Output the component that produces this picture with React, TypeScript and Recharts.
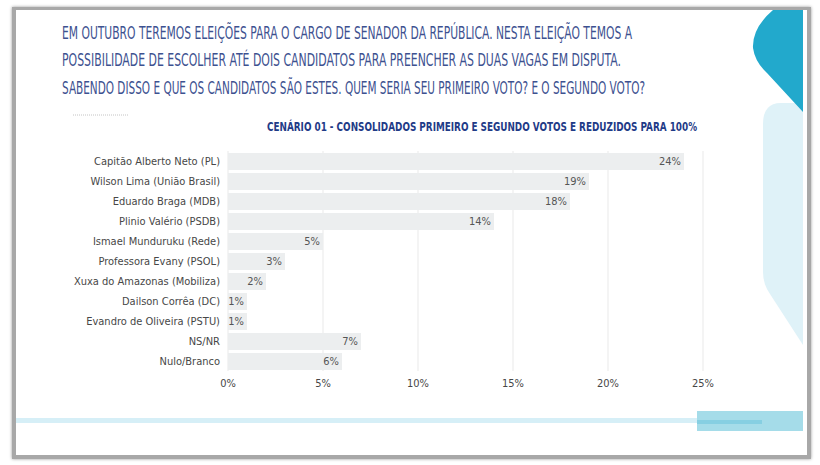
import { BarChart, Bar, XAxis, YAxis, CartesianGrid, LabelList } from "recharts";

const categories = [
  "Capitão Alberto Neto (PL)",
  "Wilson Lima (União Brasil)",
  "Eduardo Braga (MDB)",
  "Plinio Valério (PSDB)",
  "Ismael Munduruku (Rede)",
  "Professora Evany (PSOL)",
  "Xuxa do Amazonas (Mobiliza)",
  "Dailson Corrêa (DC)",
  "Evandro de Oliveira (PSTU)",
  "NS/NR",
  "Nulo/Branco",
];

const values = [24, 19, 18, 14, 5, 3, 2, 1, 1, 7, 6];

const xTicks = [0, 5, 10, 15, 20, 25];

const introLines = [
  "EM OUTUBRO TEREMOS ELEIÇÕES PARA O CARGO DE SENADOR DA REPÚBLICA. NESTA ELEIÇÃO TEMOS A",
  "POSSIBILIDADE DE ESCOLHER ATÉ DOIS CANDIDATOS PARA PREENCHER AS DUAS VAGAS EM DISPUTA.",
  "SABENDO DISSO E QUE OS CANDIDATOS SÃO ESTES. QUEM SERIA SEU PRIMEIRO VOTO? E O SEGUNDO VOTO?",
];

const subtitle = "CENÁRIO 01 - CONSOLIDADOS PRIMEIRO E SEGUNDO VOTOS E REDUZIDOS PARA 100%";

const data = categories.map((name, i) => ({ name, value: values[i] }));

const font = "'DejaVu Sans Condensed', 'Liberation Sans Narrow', sans-serif";
const textColor = "#474747";

// widths and baselines of the three intro lines
const lineLayout = [
  { y: 39, w: 570 },
  { y: 66, w: 559 },
  { y: 94, w: 583 },
];

export default function App() {
  return (
    <div
      style={{
        position: "absolute",
        left: 0,
        top: 0,
        width: 820,
        height: 465,
        background: "#fff",
        overflow: "hidden",
      }}
    >
      {/* slide frame */}
      <div
        style={{
          position: "absolute",
          left: 12,
          top: 7,
          width: 791,
          height: 445,
          borderLeft: "4px solid #a8a8a8",
          borderTop: "3px solid #a8a8a8",
          borderRight: "4px solid #a8a8a8",
          borderBottom: "4px solid #a8a8a8",
          boxShadow: "0 0 3px #999",
          background: "#fff",
        }}
      />
      <svg
        width={820}
        height={465}
        style={{ position: "absolute", left: 0, top: 0 }}
      >
        <path
          d="M 803 103 L 781 103 Q 763 103 763 124 L 763 272 Q 763 284 770 294 L 803 345 Z"
          fill="#dff2f8"
        />
        <path
          d="M 773 10 Q 752 28 753 48 Q 755 62 767 73 L 803 112 L 803 10 Z"
          fill="#22a9cc"
        />
        <rect x={16} y={418} width={681} height={5} fill="#d6eff7" />
        <rect x={697} y={411} width={106} height={20} fill="#a5dce9" />
        <rect x={697} y={420} width={65} height={4} fill="#86cfe2" />
        <line
          x1={73}
          y1={115}
          x2={128}
          y2={115}
          stroke="#c4c4c4"
          strokeWidth={1}
          strokeDasharray="1 1"
        />
        {introLines.map((t, i) => (
          <text
            key={i}
            transform={`translate(62, ${lineLayout[i].y}) scale(1, 1.45)`}
            x={0}
            y={0}
            textLength={lineLayout[i].w}
            lengthAdjust="spacingAndGlyphs"
            fontFamily={font}
            fontSize={12}
            fill="#3d5190"
          >
            {t}
          </text>
        ))}
        <text
          transform="translate(267, 131) scale(1, 1.2)"
          x={0}
          y={0}
          textLength={430}
          lengthAdjust="spacingAndGlyphs"
          fontFamily={font}
          fontSize={10.5}
          fontWeight="bold"
          fill="#1f3b87"
        >
          {subtitle}
        </text>
      </svg>
      <div style={{ position: "absolute", left: 0, top: 140 }}>
        <BarChart
          width={820}
          height={261}
          data={data}
          layout="vertical"
          margin={{ top: 11, right: 117, left: 0, bottom: 0 }}
          style={{ fontFamily: font }}
        >
          <CartesianGrid horizontal={false} stroke="#e9e9e9" />
          <XAxis
            type="number"
            domain={[0, 25]}
            ticks={xTicks}
            tickFormatter={(v) => `${v}%`}
            axisLine={false}
            tickLine={false}
            tick={{ fill: textColor, fontSize: 11 }}
            height={30}
          />
          <YAxis
            type="category"
            dataKey="name"
            width={228}
            axisLine={false}
            tickLine={false}
            interval={0}
            tick={{ fill: textColor, fontSize: 11 }}
          />
          <Bar
            dataKey="value"
            fill="#eceeef"
            barSize={17}
            isAnimationActive={false}
          >
            <LabelList
              dataKey="value"
              position="insideRight"
              offset={3}
              formatter={(v: number) => `${v}%`}
              fill="#555"
              fontSize={11}
            />
          </Bar>
        </BarChart>
      </div>
    </div>
  );
}
